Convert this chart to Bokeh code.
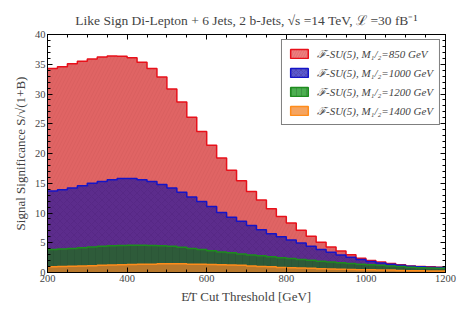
import numpy as np
from bokeh.plotting import figure
from bokeh.models import (Range1d, LinearAxis, SingleIntervalTicker, Legend, LegendItem,
                          CustomJSTickFormatter)
from bokeh.embed import file_html
from bokeh.resources import INLINE

# bin edges (GeV): 25 GeV bins from 200 to 1200
bin_lo = 200
bin_width = 25
n_bins = 40

sig_850 = [34.3, 34.6, 35.1, 35.5, 35.9, 36.2, 36.4, 36.35, 36.1, 35.35,
           34.3, 32.85, 30.85, 28.65, 26.1, 23.7, 21.4, 19.25, 17.2, 15.4,
           13.6, 12.2, 10.7, 9.4, 8.3, 7.1, 6.1, 5.1, 4.3, 3.6,
           3.0, 2.4, 2.0, 1.75, 1.5, 1.3, 1.1, 1.0, 0.95, 0.9]
sig_1000 = [13.7, 13.9, 14.2, 14.6, 15.0, 15.3, 15.6, 15.8, 15.8, 15.6,
            15.3, 14.8, 14.2, 13.5, 12.7, 11.95, 11.1, 10.1, 9.3, 8.6,
            7.9, 7.2, 6.5, 6.0, 5.45, 4.95, 4.4, 3.85, 3.4, 2.95,
            2.55, 2.2, 1.85, 1.6, 1.4, 1.2, 1.05, 0.95, 0.9, 0.85]
sig_1200 = [3.85, 3.95, 4.05, 4.15, 4.3, 4.4, 4.5, 4.55, 4.6, 4.6,
            4.55, 4.5, 4.4, 4.25, 4.05, 3.85, 3.65, 3.45, 3.3, 3.1,
            2.95, 2.8, 2.65, 2.5, 2.35, 2.2, 2.05, 1.9, 1.75, 1.65,
            1.5, 1.4, 1.3, 1.2, 1.1, 1.0, 0.9, 0.8, 0.75, 0.7]
sig_1400 = [0.95, 1.0, 1.05, 1.1, 1.15, 1.2, 1.25, 1.3, 1.35, 1.4,
            1.4, 1.45, 1.45, 1.45, 1.4, 1.4, 1.35, 1.3, 1.25, 1.2,
            1.1, 1.0, 0.95, 0.85, 0.8, 0.75, 0.7, 0.65, 0.6, 0.55,
            0.5, 0.45, 0.45, 0.4, 0.4, 0.35, 0.3, 0.3, 0.25, 0.25]

labels = ["\u2131-SU(5), M\u2081/\u2082=850 GeV",
          "\u2131-SU(5), M\u2081/\u2082=1000 GeV",
          "\u2131-SU(5), M\u2081/\u2082=1200 GeV",
          "\u2131-SU(5), M\u2081/\u2082=1400 GeV"]

edges = [bin_lo + bin_width * i for i in range(n_bins + 1)]

SERIF = "Liberation Serif"

p = figure(width=463, height=306, output_backend="svg", toolbar_location=None,
           x_range=Range1d(200, 1200), y_range=Range1d(0, 40),
           min_border_left=47, min_border_right=18, min_border_top=34, min_border_bottom=33)

p.title.text = "Like Sign Di-Lepton + 6 Jets, 2 b-Jets, \u221As =14 TeV, \u2112 =30 fB\u207B\u00B9"
p.title.text_font = SERIF
p.title.text_font_size = "13.5px"
p.title.text_font_style = "normal"
p.title.align = "center"
p.title.vertical_align = "top"
p.title.offset = 0

p.xgrid.visible = False
p.ygrid.visible = False
p.outline_line_color = "black"
p.outline_line_width = 1

series = [
    (sig_850, "#e06464", "#b84848", "right_diagonal_line", "#e8101a", "#ef7f7f"),
    (sig_1000, "#5c2c8c", "#3e1a66", "diagonal_cross", "#1414c8", "#5a5acd"),
    (sig_1200, "#2e5b3a", "#1e3e26", "vertical_line", "#1e8c1e", "#4caf50"),
    (sig_1400, "#b8782c", "#a06520", " ", "#ff8c1a", "#f5a460"),
]

nan = float("nan")
items = []
for (vals, fill, hatch_c, hatch, edge, swatch), lab in zip(series, labels):
    ys = list(vals) + [vals[-1]]
    p.varea_step(x=edges, y1=0, y2=ys, step_mode="after", fill_color=fill,
                 hatch_pattern=hatch, hatch_color=hatch_c, hatch_alpha=0.35,
                 hatch_scale=7, hatch_weight=0.5)
    p.step(x=edges, y=ys, mode="after", line_color=edge, line_width=1.5)
    dummy = p.quad(left=[nan], right=[nan], top=[nan], bottom=[nan], fill_color=swatch,
                   line_color=edge, line_width=1.5, hatch_pattern=hatch,
                   hatch_color=hatch_c, hatch_alpha=0.25, hatch_scale=5)
    items.append(LegendItem(label=lab, renderers=[dummy]))

legend = Legend(items=items, location="top_right")
legend.label_text_font = SERIF
legend.label_text_font_style = "italic"
legend.label_text_font_size = "11px"
legend.glyph_height = 11
legend.glyph_width = 22
legend.spacing = 4
legend.padding = 6
legend.margin = 5
legend.label_standoff = 7
legend.border_line_color = "black"
legend.border_line_width = 1
legend.background_fill_alpha = 1
p.add_layout(legend)

blank = CustomJSTickFormatter(code="return ''")

def style_axis(ax, show_labels=True):
    ax.major_tick_in = 5
    ax.major_tick_out = 0
    ax.minor_tick_in = 3
    ax.minor_tick_out = 0
    ax.axis_line_color = "black"
    ax.major_tick_line_color = "black"
    ax.minor_tick_line_color = "black"
    ax.major_label_text_font = SERIF
    ax.major_label_text_font_size = "10.5px"
    ax.major_label_standoff = 2
    ax.axis_label_text_font = SERIF
    ax.axis_label_text_font_size = "13px"
    ax.axis_label_text_font_style = "normal"
    ax.axis_label_standoff = 4
    if not show_labels:
        ax.formatter = blank
        ax.major_label_standoff = 0

p.xaxis.ticker = SingleIntervalTicker(interval=200, num_minor_ticks=4)
p.yaxis.ticker = SingleIntervalTicker(interval=5, num_minor_ticks=5)
style_axis(p.xaxis[0])
style_axis(p.yaxis[0])
p.xaxis.axis_label = "E\u0338T Cut Threshold [GeV]"
p.yaxis.axis_label = "Signal Significance S/\u221A(1+B)"

ax_r = LinearAxis(ticker=SingleIntervalTicker(interval=5, num_minor_ticks=5))
style_axis(ax_r, False)
p.add_layout(ax_r, "right")
ax_t = LinearAxis(ticker=SingleIntervalTicker(interval=200, num_minor_ticks=4))
style_axis(ax_t, False)
p.add_layout(ax_t, "above")

open("out.html", "w").write(file_html(p, INLINE))
